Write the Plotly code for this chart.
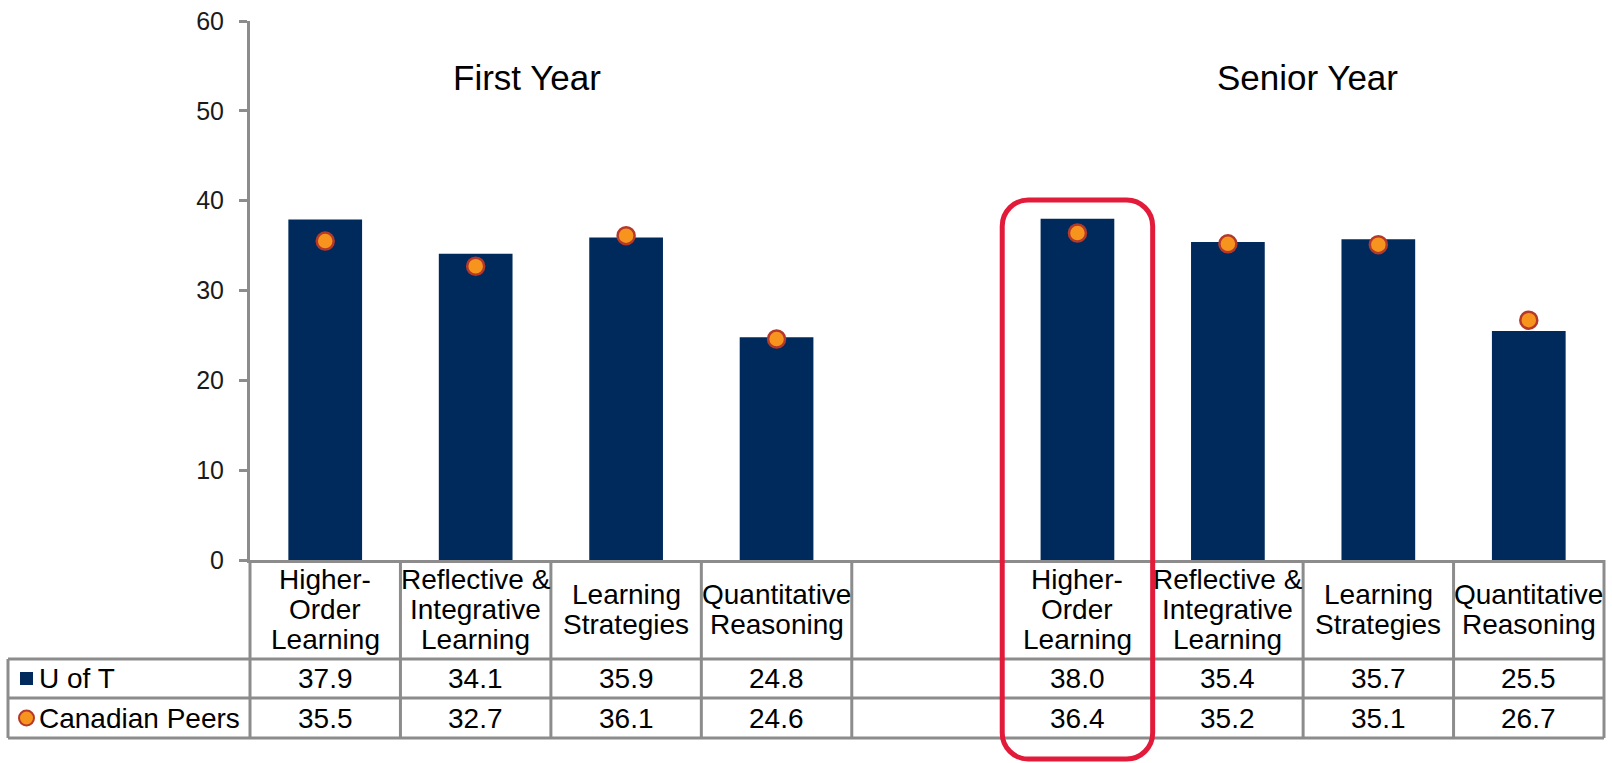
import plotly.graph_objects as go

# ---------------- data ----------------
groups = ["First Year", "Senior Year"]
categories = ["Higher-Order Learning", "Reflective & Integrative Learning",
              "Learning Strategies", "Quantitative Reasoning"]
header_lines = [["Higher-", "Order", "Learning"], ["Reflective &", "Integrative", "Learning"],
                ["Learning", "Strategies"], ["Quantitative", "Reasoning"]]
series_names = ["U of T", "Canadian Peers"]
uoft_first = [37.9, 34.1, 35.9, 24.8]
peers_first = [35.5, 32.7, 36.1, 24.6]
uoft_senior = [38.0, 35.4, 35.7, 25.5]
peers_senior = [36.4, 35.2, 35.1, 26.7]
y_ticks = [0, 10, 20, 30, 40, 50, 60]
highlight_slot = 5  # Senior Year, Higher-Order Learning

# ---------------- layout constants ----------------
FW, FH = 1612, 763
L, R, T, B = 250, 8, 21, 203
PW = FW - L - R
PH = FH - T - B
NSLOT = 2 * len(categories) + 1

NAVY = "#002A5C"
ORANGE = "#F7941D"
ORANGE_EDGE = "#B5392A"
GRID = "#8C8C8C"
RED = "#E31B3B"
FONT = "Liberation Sans, Arial, sans-serif"
TFS = 28      # table font size
LINE_H = 30   # header line spacing (px)

def px_x(p):
    return (p - L) / PW

def px_y(p):
    return (FH - B - p) / PH

first_x = list(range(len(categories)))
senior_x = [len(categories) + 1 + i for i in range(len(categories))]

fig = go.Figure()
fig.add_trace(go.Bar(x=first_x + senior_x, y=uoft_first + uoft_senior,
                     marker=dict(color=NAVY, line=dict(width=0)),
                     width=0.49, name=series_names[0], showlegend=False))
fig.add_trace(go.Scatter(x=first_x + senior_x, y=peers_first + peers_senior,
                         mode="markers", name=series_names[1], showlegend=False,
                         marker=dict(color=ORANGE, size=17,
                                     line=dict(color=ORANGE_EDGE, width=2.5))))

shapes = []
annotations = []

# table geometry (pixels)
y_head_top = FH - B
y_row1 = 659
y_row2 = 698
y_bot = 738
x_left = 8

line = dict(color=GRID, width=3)
for yy in [y_row1, y_row2, y_bot]:
    shapes.append(dict(type="line", xref="paper", yref="paper",
                       x0=px_x(x_left), x1=1, y0=px_y(yy), y1=px_y(yy), line=line))
for i in range(NSLOT + 1):
    shapes.append(dict(type="line", xref="paper", yref="paper",
                       x0=i / NSLOT, x1=i / NSLOT, y0=0, y1=px_y(y_bot), line=line))
shapes.append(dict(type="line", xref="paper", yref="paper",
                   x0=px_x(x_left), x1=px_x(x_left), y0=px_y(y_row1), y1=px_y(y_bot), line=line))

# legend symbols
r1c = (y_row1 + y_row2) / 2
r2c = (y_row2 + y_bot) / 2
shapes.append(dict(type="rect", xref="paper", yref="paper",
                   x0=px_x(20), x1=px_x(33), y0=px_y(r1c + 6.5), y1=px_y(r1c - 6.5),
                   fillcolor=NAVY, line=dict(width=0)))
shapes.append(dict(type="circle", xref="paper", yref="paper",
                   x0=px_x(19), x1=px_x(34), y0=px_y(r2c + 7.5), y1=px_y(r2c - 7.5),
                   fillcolor=ORANGE, line=dict(color=ORANGE_EDGE, width=2)))

def txt(x, y, s, size=TFS, xanchor="center"):
    return dict(xref="paper", yref="paper", x=x, y=y, text=s, showarrow=False,
                xanchor=xanchor, yanchor="middle",
                font=dict(family=FONT, size=size, color="#000"))

slots = [first_x, senior_x]
values = [[uoft_first, peers_first], [uoft_senior, peers_senior]]
hc = (y_head_top + y_row1) / 2
for g in range(2):
    for i, xi in enumerate(slots[g]):
        cx = (xi + 0.5) / NSLOT
        lines = header_lines[i]
        n = len(lines)
        for j, s in enumerate(lines):
            yy = hc + (j - (n - 1) / 2) * LINE_H
            annotations.append(txt(cx, px_y(yy), s))
        for r, yc in enumerate([r1c, r2c]):
            annotations.append(txt(cx, px_y(yc), f"{values[g][r][i]:.1f}"))

for r, yc in enumerate([r1c, r2c]):
    annotations.append(txt(px_x(37), px_y(yc), series_names[r], xanchor="left"))

# group titles
for g, cxp in zip(groups, [527, 1307]):
    annotations.append(txt(px_x(cxp), px_y(77), g, size=35))

# red rounded highlight box
bx0 = L + highlight_slot * PW / NSLOT
bx1 = L + (highlight_slot + 1) * PW / NSLOT
by0, by1, rad = 200, 759, 26
k = 0.5523 * rad
def P(x, y):
    return f"{px_x(x):.5f},{px_y(y):.5f}"
path = (f"M {P(bx0 + rad, by0)} L {P(bx1 - rad, by0)} "
        f"C {P(bx1 - rad + k, by0)} {P(bx1, by0 + rad - k)} {P(bx1, by0 + rad)} "
        f"L {P(bx1, by1 - rad)} "
        f"C {P(bx1, by1 - rad + k)} {P(bx1 - rad + k, by1)} {P(bx1 - rad, by1)} "
        f"L {P(bx0 + rad, by1)} "
        f"C {P(bx0 + rad - k, by1)} {P(bx0, by1 - rad + k)} {P(bx0, by1 - rad)} "
        f"L {P(bx0, by0 + rad)} "
        f"C {P(bx0, by0 + rad - k)} {P(bx0 + rad - k, by0)} {P(bx0 + rad, by0)} Z")
shapes.append(dict(type="path", xref="paper", yref="paper", path=path,
                   line=dict(color=RED, width=5), fillcolor="rgba(0,0,0,0)"))

fig.update_layout(
    width=FW, height=FH,
    margin=dict(l=L, r=R, t=T, b=B, autoexpand=False),
    paper_bgcolor="white", plot_bgcolor="white",
    shapes=shapes, annotations=annotations,
    xaxis=dict(range=[-0.5, NSLOT - 0.5], showticklabels=False, ticks="",
               showgrid=False, zeroline=False, showline=True, linecolor=GRID, linewidth=3,
               fixedrange=True),
    yaxis=dict(range=[0, 60], tickvals=y_ticks, ticks="outside", ticklen=8, tickwidth=3,
               tickcolor=GRID, showline=True, linecolor=GRID, linewidth=3, showgrid=False,
               zeroline=False, tickfont=dict(family=FONT, size=25, color="#1a1a1a"),
               ticklabelstandoff=10, fixedrange=True),
    showlegend=False,
    font=dict(family=FONT),
)

fig.write_html("out.html", config={"displayModeBar": False},
               post_script="document.body.style.margin='0';document.body.style.overflow='hidden';")
